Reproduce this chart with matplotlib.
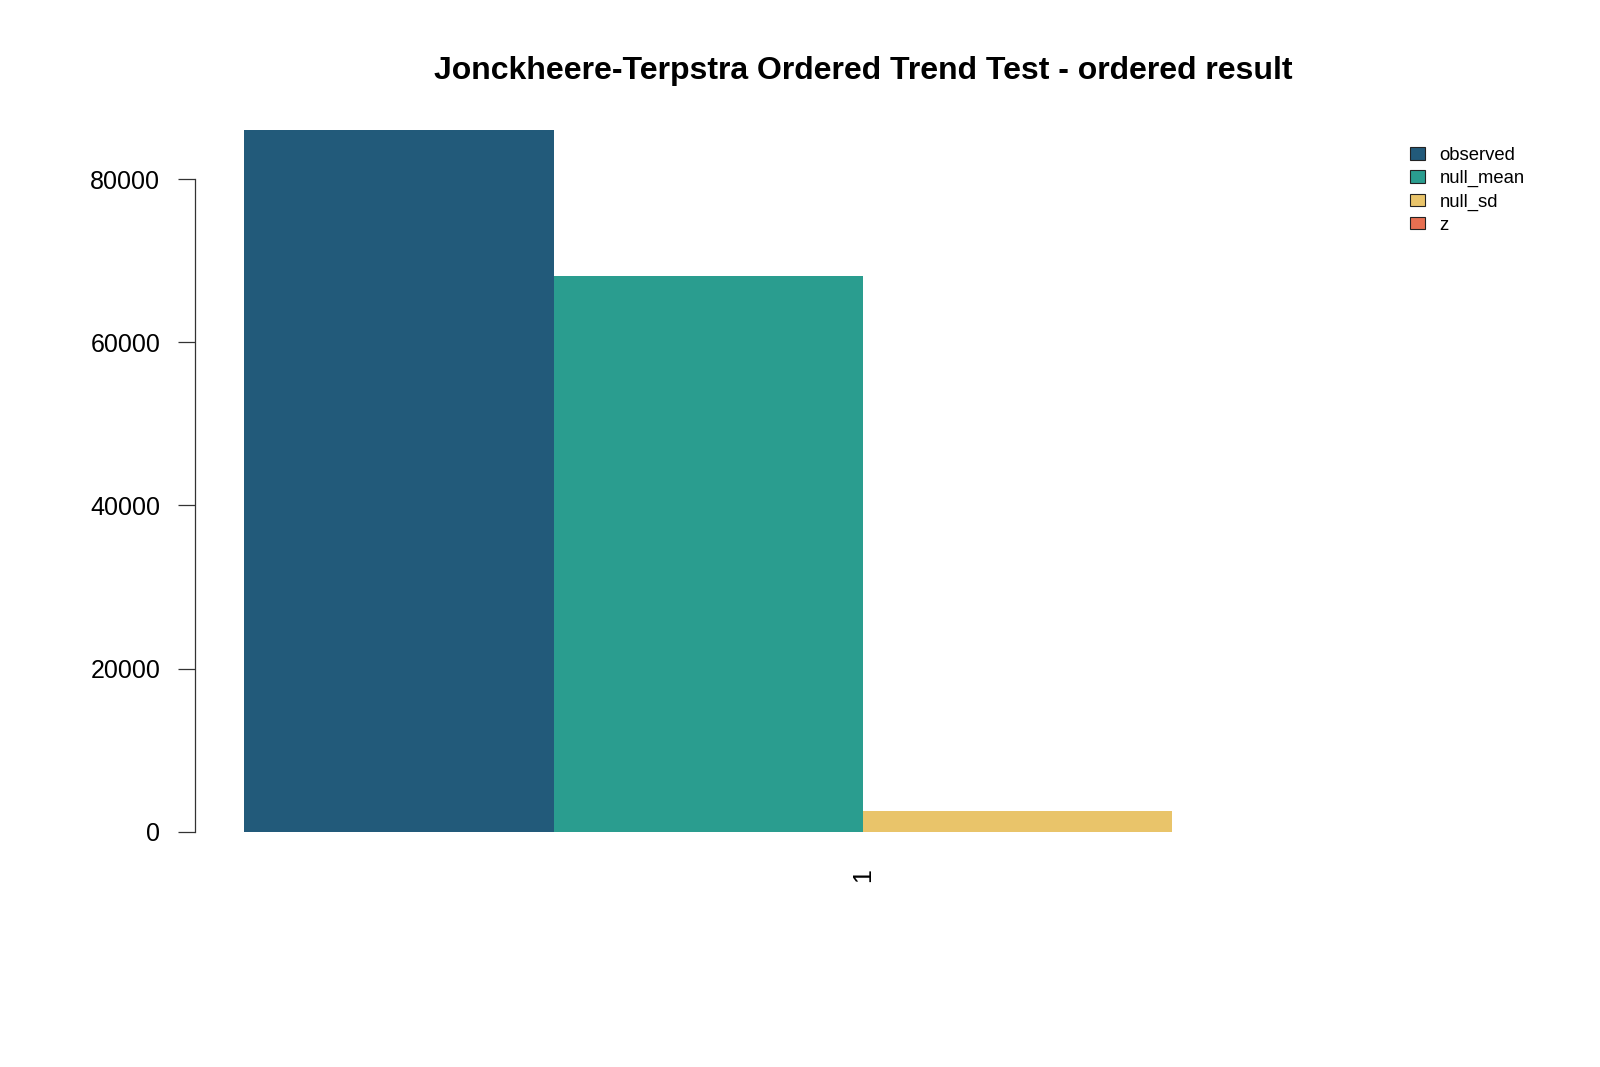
import matplotlib
matplotlib.use("Agg")
import matplotlib.pyplot as plt
from matplotlib.patches import Patch

# valores
group_labels = ["1"]
series_names = ["observed", "null_mean", "null_sd", "z"]
series_values = [86000, 68100, 2520, 7.1]
series_colors = ["#225A7A", "#2A9D8F", "#E9C46A", "#E76F51"]
y_ticks = [0, 20000, 40000, 60000, 80000]

plt.rcParams["font.family"] = ["Liberation Sans", "DejaVu Sans"]

fig = plt.figure(figsize=(16, 10.67), dpi=100)
ax = fig.add_axes([195 / 1600, 1 - 860 / 1067, (1531 - 195) / 1600, (860 - 102) / 1067])

# barras lado a lado, largura 1, começam em x=1 (como no barplot do R)
lefts = [1 + i for i in range(len(series_values))]
for left, val, col in zip(lefts, series_values, series_colors):
    ax.bar(left, val, width=1, align="edge", color=col, edgecolor="none")

span = lefts[-1] + 1 - lefts[0]
ax.set_xlim(lefts[0] - 0.04 * span, lefts[-1] + 1 + 0.04 * span)
ymax = max(series_values)
ax.set_ylim(-0.04 * ymax, 1.04 * ymax)

# eixo y estilo R
for side in ["top", "right", "bottom"]:
    ax.spines[side].set_visible(False)
ax.spines["left"].set_bounds(y_ticks[0], y_ticks[-1])
ax.spines["left"].set_color("#333333")
ax.spines["left"].set_linewidth(0.9)
ax.set_yticks(y_ticks)
ax.set_yticklabels([str(t) for t in y_ticks], fontsize=18)
ax.tick_params(axis="y", length=12, width=0.9, color="#333333", pad=13)

# rótulo do grupo no centro
center = (lefts[0] + lefts[-1] + 1) / 2
ax.set_xticks([center])
ax.set_xticklabels(group_labels, rotation=90, fontsize=18, va="top")
ax.tick_params(axis="x", length=0, pad=6)

# título centrado sobre a área do gráfico
fig.text((195 + 1531) / 2 / 1600, 1 - 71 / 1067,
         "Jonckheere-Terpstra Ordered Trend Test - ordered result",
         fontsize=23, fontweight="bold", ha="center", va="center")

handles = [Patch(facecolor=c, edgecolor="#222222", linewidth=0.8) for c in series_colors]
fig.legend(handles, series_names, loc="upper left", bbox_to_anchor=(1410 / 1600, 1 - 147 / 1067),
           frameon=False, fontsize=13.3, borderpad=0, borderaxespad=0,
           handlelength=0.8, handleheight=0.65, handletextpad=0.8, labelspacing=0.33)

fig.savefig("out.png", dpi=100, facecolor="white")
